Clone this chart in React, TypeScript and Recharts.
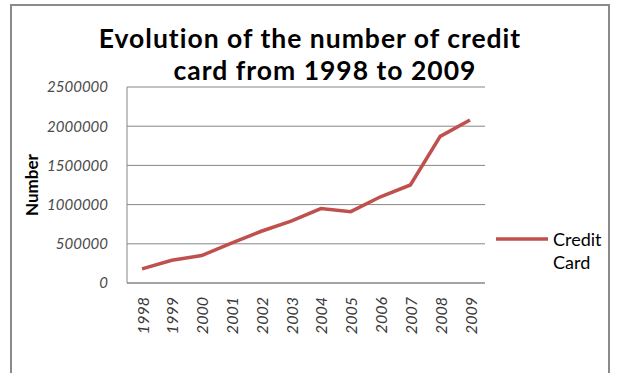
import React from 'react';
import { LineChart, Line, XAxis, YAxis, CartesianGrid } from 'recharts';

const years = ['1998', '1999', '2000', '2001', '2002', '2003', '2004', '2005', '2006', '2007', '2008', '2009'];
const creditCards = [180000, 290000, 350000, 510000, 660000, 790000, 950000, 910000, 1100000, 1250000, 1870000, 2080000];
const yTicks = [0, 500000, 1000000, 1500000, 2000000, 2500000];
const titleLines = ['Evolution of the number of credit', 'card from 1998 to 2009'];
const seriesName = 'Credit Card';

const data = years.map((y, i) => ({ year: y, value: creditCards[i] }));

const LINE_COLOR = '#c0504d';
const GRID_COLOR = '#868686';
const FONT = 'Lato, "Open Sans", sans-serif';

const YTick = (props: any) => {
  const { x, y, payload } = props;
  return (
    <text x={x} y={y} dy="0.36em" textAnchor="end" fontStyle="italic" fontSize={15} fill="#4a4a4a" fontFamily={FONT}>
      {payload.value}
    </text>
  );
};

const XTick = (props: any) => {
  const { x, y, payload } = props;
  return (
    <text
      x={x}
      y={y}
      transform={`rotate(-90, ${x}, ${y})`}
      textAnchor="end"
      dominantBaseline="central"
      fontStyle="italic"
      fontSize={16}
      fill="#3a3a3a"
      fontFamily={FONT}
    >
      {payload.value}
    </text>
  );
};

const YLabel = (props: any) => {
  const vb = props.viewBox || {};
  const cx = (vb.x || 0) + 31;
  const cy = (vb.y || 0) + (vb.height || 0) / 2;
  return (
    <text
      x={cx}
      y={cy}
      transform={`rotate(-90, ${cx}, ${cy})`}
      textAnchor="middle"
      dominantBaseline="central"
      fontWeight="bold"
      fontSize={17}
      fill="#000"
      fontFamily={FONT}
    >
      Number
    </text>
  );
};

const LegendBox = () => {
  const words = seriesName.split(' ');
  return (
    <svg
      width={122}
      height={60}
      style={{ position: 'absolute', left: 494, top: 228, overflow: 'visible', display: 'block' }}
    >
      <line x1={2} y1={11} x2={54} y2={11} stroke={LINE_COLOR} strokeWidth={3.5} />
      {words.map((w, i) => (
        <text key={w} x={59} y={18 + i * 23} fontSize={18} fill="#000" fontFamily={FONT}>
          {w}
        </text>
      ))}
    </svg>
  );
};

export default function App() {
  return (
    <div
      style={{
        position: 'fixed',
        left: 0,
        top: 0,
        width: 617,
        height: 373,
        background: '#fff',
        overflow: 'hidden',
      }}
    >
      <div
        style={{
          position: 'absolute',
          left: 10,
          top: 4,
          width: 596,
          height: 420,
          border: '2px solid #8a8a8a',
        }}
      />
      {titleLines.map((t, i) => (
        <div
          key={t}
          style={{
            position: 'absolute',
            left: i === 0 ? 0 : 15,
            width: 620,
            top: 22 + i * 32,
            textAlign: 'center',
            fontFamily: FONT,
            fontWeight: 'bold',
            fontSize: 26.5,
            letterSpacing: 1,
            lineHeight: '32px',
            color: '#000',
            whiteSpace: 'nowrap',
          }}
        >
          {t}
        </div>
      ))}
      <div style={{ position: 'absolute', left: 0, top: 0 }}>
        <LineChart width={617} height={373} data={data} margin={{ top: 87, right: 132, bottom: 0, left: 0 }}>
          <CartesianGrid vertical={false} stroke={GRID_COLOR} strokeWidth={1} />
          <XAxis
            dataKey="year"
            height={90}
            padding={{ left: 15, right: 15 }}
            axisLine={{ stroke: GRID_COLOR }}
            tickLine={false}
            tickSize={0}
            tickMargin={14}
            tick={<XTick />}
            interval={0}
          />
          <YAxis
            width={127}
            domain={[0, 2500000]}
            ticks={yTicks}
            axisLine={{ stroke: GRID_COLOR }}
            tickLine={false}
            tickSize={0}
            tickMargin={19}
            tick={<YTick />}
            label={<YLabel />}
          />
          <Line
            type="linear"
            dataKey="value"
            name={seriesName}
            stroke={LINE_COLOR}
            strokeWidth={3.5}
            dot={false}
            isAnimationActive={false}
          />
        </LineChart>
      </div>
      <LegendBox />
    </div>
  );
}
